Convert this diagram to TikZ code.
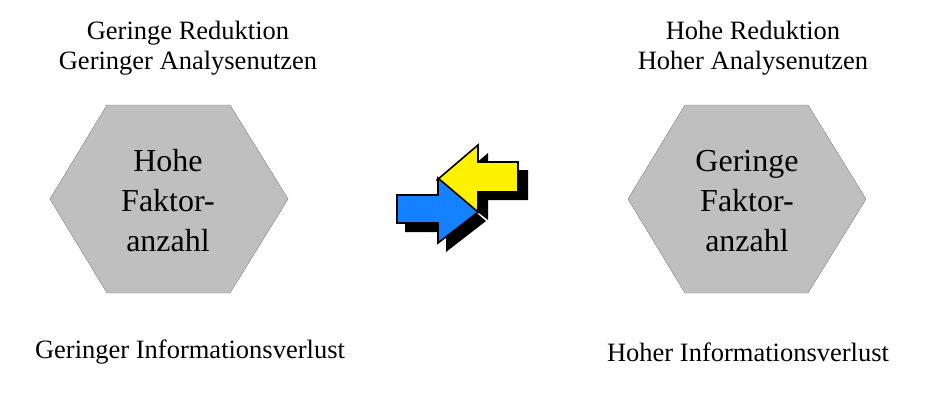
\documentclass[tikz,border=0pt]{standalone}
\usepackage{fontspec}
\setmainfont{Liberation Serif}
\usetikzlibrary{positioning}
\tikzset{
  hexa/.style    = { fill=black!25!white, draw=black!50!white, thin },
  inner/.style   = { align=center, font=\fontsize{32}{40}\selectfont },
  caption/.style = { align=center, font=\fontsize{26.5}{30}\selectfont },
  shade/.style   = { fill=black },
  pointer/.style = { draw=black, line width=1.6pt, line join=miter },
}
\begin{document}
\begin{tikzpicture}[x=1pt,y=-1pt]
  \useasboundingbox (0,0) rectangle (931,400);

  \draw [hexa] (50,199) -- (107,105) -- (230,105) -- (288,199) -- (230,293) -- (107,293) -- cycle;
  \draw [hexa] (628,199) -- (685,105) -- (808,105) -- (866,199) -- (808,293) -- (685,293) -- cycle;

  \node (many)   [inner] at (168,201) {Hohe\\Faktor-\\anzahl};
  \node (few)    [inner] at (747,201) {Geringe\\Faktor-\\anzahl};
  \node (lowred) [caption] at (188,48)  {Geringe Reduktion\\Geringer Analysenutzen};
  \node (hired)  [caption] at (753,48)  {Hohe Reduktion\\Hoher Analysenutzen};
  \node (lowloss)[caption] at (190,352) {Geringer Informationsverlust};
  \node (hiloss) [caption] at (748,352) {Hoher Informationsverlust};

  % shadows
  \fill [shade,xshift=10pt,yshift=-8pt] (437,180) -- (478,145) -- (478,162) -- (518,162) -- (518,192) -- (478,192) -- (478,212) -- cycle;
  \fill [shade,xshift=8pt,yshift=-9pt] (397,195) -- (438,195) -- (438,178) -- (478,212) -- (438,243) -- (438,223) -- (397,223) -- cycle;
  % arrows
  \filldraw [pointer,fill=yellow] (437,180) -- (478,145) -- (478,162) -- (518,162) -- (518,192) -- (478,192) -- (478,212) -- cycle;
  \filldraw [pointer,fill={rgb,255:red,20;green,130;blue,255}] (397,195) -- (438,195) -- (438,178) -- (478,212) -- (438,243) -- (438,223) -- (397,223) -- cycle;
\end{tikzpicture}
\end{document}
